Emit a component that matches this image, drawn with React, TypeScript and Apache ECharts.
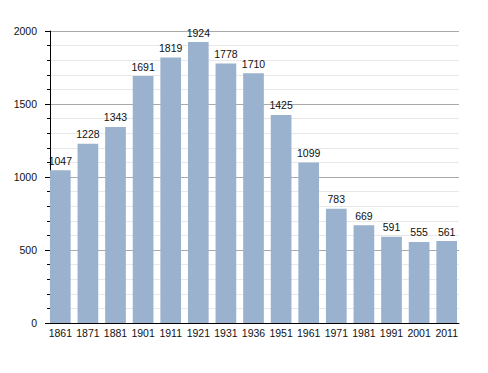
import React, { useEffect, useRef } from "react";
import * as echarts from "echarts";

const years = ["1861", "1871", "1881", "1901", "1911", "1921", "1931", "1936", "1951", "1961", "1971", "1981", "1991", "2001", "2011"];
const population = [1047, 1228, 1343, 1691, 1819, 1924, 1778, 1710, 1425, 1099, 783, 669, 591, 555, 561];
const yMin = 0;
const yMax = 2000;
const yStep = 500;

export default function App() {
  const ref = useRef<HTMLDivElement>(null);
  useEffect(() => {
    if (!ref.current) return;
    const chart = echarts.init(ref.current, null, { renderer: "svg" });
    const font = "Liberation Sans, Arial, sans-serif";
    chart.setOption({
      animation: false,
      backgroundColor: "#ffffff",
      grid: [
        { left: 50, top: 31, width: 409, height: 292 },
        { left: 46.5, top: 31, width: 414, height: 292 },
      ],
      xAxis: [
        {
          type: "category",
          gridIndex: 0,
          data: years,
          axisLine: { show: true, lineStyle: { color: "#000", width: 1 } },
          axisTick: { show: false },
          axisLabel: { show: false },
          splitLine: { show: false },
        },
        {
          type: "category",
          gridIndex: 1,
          data: years,
          axisLine: { show: false },
          axisTick: { show: false },
          axisLabel: { show: true, interval: 0, margin: 4, fontSize: 10.5, fontFamily: font, color: "#111" },
          splitLine: { show: false },
        },
      ],
      yAxis: [
        {
          type: "value",
          gridIndex: 0,
          min: yMin,
          max: yMax,
          interval: yStep,
          axisLine: { show: true, lineStyle: { color: "#000", width: 1 } },
          axisTick: { show: true, length: 5, lineStyle: { color: "#000" } },
          minorTick: { show: true, splitNumber: 5, length: 3, lineStyle: { color: "#000" } },
          axisLabel: {
            margin: 13,
            fontSize: 10.5,
            fontFamily: font,
            color: "#111",
            formatter: (v: number) => String(v),
          },
          splitLine: { show: true, lineStyle: { color: "#aaaaaa", width: 1 } },
          minorSplitLine: { show: true, lineStyle: { color: "#e8e8e8", width: 1 } },
        },
        {
          type: "value",
          gridIndex: 1,
          min: yMin,
          max: yMax,
          interval: yStep,
          show: false,
          splitLine: { show: false },
        },
      ],
      series: [
        {
          type: "bar",
          xAxisIndex: 1,
          yAxisIndex: 1,
          data: population,
          barWidth: 20.7,
          itemStyle: { color: "#9bb2ce" },
          label: {
            show: true,
            position: "top",
            distance: 4,
            fontSize: 10.5,
            fontFamily: font,
            color: "#111",
          },
        },
      ],
    });
    return () => chart.dispose();
  }, []);
  return <div ref={ref} style={{ position: "absolute", left: 0, top: 0, width: 488, height: 373 }} />;
}
